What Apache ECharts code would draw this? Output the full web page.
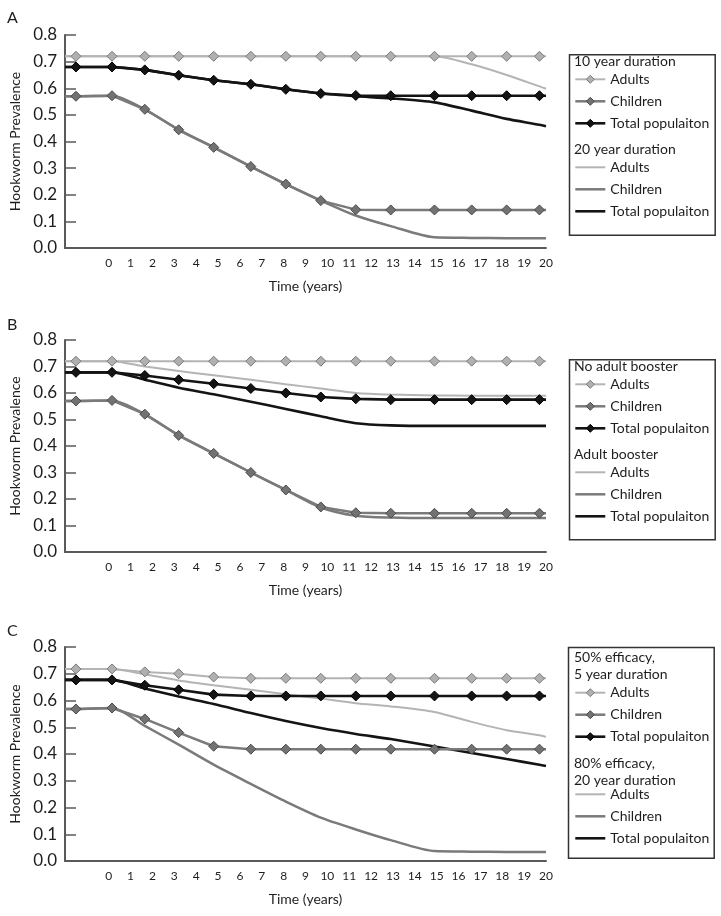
<!DOCTYPE html>
<html>
<head>
<meta charset="utf-8">
<title>Hookworm prevalence</title>
<script src="https://cdn.jsdelivr.net/npm/echarts@6/dist/echarts.min.js"></script>
<style>
html, body { margin: 0; padding: 0; background: #fff; }
#main { width: 721px; height: 916px; }
</style>
</head>
<body>
<div id="main"></div>
<script>
// time points (years). first and last point carry no marker
var years = [-2, -1.5, 0.15, 1.65, 3.2, 4.8, 6.5, 8.1, 9.7, 11.3, 12.9, 14.9, 16.6, 18.2, 19.7, 20];
var xTickLabels = ['0','1','2','3','4','5','6','7','8','9','10','11','12','13','14','15','16','17','18','19','20'];
var yTickLabels = ['0.0','0.1','0.2','0.3','0.4','0.5','0.6','0.7','0.8'];

// A: 10 year vs 20 year duration
var aAdults10   = [0.72, 0.72, 0.72, 0.72, 0.72, 0.72, 0.72, 0.72, 0.72, 0.72, 0.72, 0.72, 0.72, 0.72, 0.72, 0.72];
var aChildren10 = [0.57, 0.57, 0.572, 0.521, 0.444, 0.378, 0.306, 0.24, 0.178, 0.144, 0.143, 0.143, 0.143, 0.143, 0.143, 0.143];
var aTotal10    = [0.68, 0.68, 0.68, 0.669, 0.649, 0.63, 0.615, 0.596, 0.58, 0.573, 0.572, 0.572, 0.572, 0.572, 0.572, 0.572];
var aAdults20   = [0.72, 0.72, 0.72, 0.72, 0.72, 0.72, 0.72, 0.72, 0.72, 0.72, 0.72, 0.72, 0.69, 0.65, 0.607, 0.598];
var aChildren20 = [0.57, 0.57, 0.572, 0.521, 0.444, 0.378, 0.306, 0.24, 0.178, 0.122, 0.082, 0.04, 0.038, 0.037, 0.037, 0.037];
var aTotal20    = [0.68, 0.68, 0.68, 0.669, 0.649, 0.63, 0.615, 0.596, 0.58, 0.57, 0.562, 0.547, 0.516, 0.485, 0.463, 0.457];

// B: no adult booster vs adult booster
var bAdultsNo     = [0.72, 0.72, 0.72, 0.72, 0.72, 0.72, 0.72, 0.72, 0.72, 0.72, 0.72, 0.72, 0.72, 0.72, 0.72, 0.72];
var bChildrenNo   = [0.57, 0.57, 0.572, 0.52, 0.44, 0.372, 0.3, 0.234, 0.17, 0.148, 0.146, 0.146, 0.146, 0.146, 0.146, 0.146];
var bTotalNo      = [0.678, 0.678, 0.678, 0.666, 0.65, 0.635, 0.617, 0.6, 0.585, 0.578, 0.575, 0.575, 0.575, 0.575, 0.575, 0.575];
var bAdultsBoost  = [0.72, 0.72, 0.72, 0.70, 0.683, 0.667, 0.65, 0.633, 0.617, 0.6, 0.594, 0.591, 0.59, 0.59, 0.59, 0.59];
var bChildrenBoost= [0.57, 0.57, 0.572, 0.52, 0.44, 0.372, 0.3, 0.234, 0.168, 0.137, 0.13, 0.128, 0.128, 0.128, 0.128, 0.128];
var bTotalBoost   = [0.678, 0.678, 0.678, 0.65, 0.62, 0.595, 0.567, 0.54, 0.512, 0.486, 0.478, 0.476, 0.476, 0.476, 0.476, 0.476];

// C: 50% efficacy 5 years vs 80% efficacy 20 years
var cAdults50   = [0.718, 0.718, 0.718, 0.707, 0.70, 0.688, 0.683, 0.683, 0.683, 0.683, 0.683, 0.683, 0.683, 0.683, 0.683, 0.683];
var cChildren50 = [0.568, 0.568, 0.572, 0.531, 0.48, 0.429, 0.418, 0.418, 0.418, 0.418, 0.418, 0.418, 0.418, 0.418, 0.418, 0.418];
var cTotal50    = [0.677, 0.677, 0.677, 0.657, 0.64, 0.622, 0.617, 0.617, 0.617, 0.617, 0.617, 0.617, 0.617, 0.617, 0.617, 0.617];
var cAdults80   = [0.718, 0.718, 0.718, 0.698, 0.675, 0.657, 0.64, 0.623, 0.607, 0.59, 0.578, 0.557, 0.52, 0.489, 0.47, 0.464];
var cChildren80 = [0.568, 0.568, 0.572, 0.505, 0.435, 0.36, 0.288, 0.222, 0.162, 0.118, 0.078, 0.037, 0.035, 0.034, 0.034, 0.034];
var cTotal80    = [0.677, 0.677, 0.677, 0.645, 0.615, 0.587, 0.553, 0.523, 0.497, 0.475, 0.456, 0.428, 0.404, 0.381, 0.36, 0.355];

var FONT = 'Lato';
var AXIS_COLOR = '#5a5a5a';
var TEXT_COLOR = '#1e1e1e';

var look = {
  'Adults':           {line: '#b4b4b4', fill: '#b0b0b0', border: '#7a7a7a', width: 2},
  'Children':         {line: '#7a7a7a', fill: '#727272', border: '#4a4a4a', width: 2.5},
  'Total populaiton': {line: '#141414', fill: '#141414', border: '#000000', width: 2.6}
};

function lineSeries(label, tag, vals, gi, marked) {
  var st = look[label];
  return {
    name: label + '#' + tag,
    type: 'line',
    xAxisIndex: gi,
    yAxisIndex: gi,
    symbol: marked ? 'diamond' : 'none',
    symbolSize: 10,
    showSymbol: marked,
    smooth: marked ? false : 0.25,
    z: marked ? 4 : 3,
    lineStyle: {color: st.line, width: st.width},
    itemStyle: {color: st.fill, borderColor: st.border, borderWidth: 1},
    emphasis: {disabled: true},
    data: vals.map(function (v, i) {
      var p = {value: [years[i], v]};
      if (i === 0 || i === vals.length - 1) p.symbol = 'none';
      return p;
    })
  };
}

function legendFor(tag, top, marked) {
  return {
    orient: 'vertical',
    left: 574,
    top: top,
    padding: 0,
    itemWidth: 30,
    itemHeight: 10,
    itemGap: 8,
    selectedMode: false,
    lineStyle: {width: 'inherit'},
    itemStyle: {borderWidth: 'inherit'},
    textStyle: {fontFamily: FONT, fontSize: 14, color: TEXT_COLOR},
    formatter: function (name) { return name.split('#')[0]; },
    data: ['Adults', 'Children', 'Total populaiton'].map(function (n) {
      var d = {name: n + '#' + tag};
      if (!marked) d.itemStyle = {opacity: 0};
      return d;
    })
  };
}

function xAxisFor(gi) {
  return {
    type: 'value', gridIndex: gi, min: -2, max: 20, interval: 1,
    name: 'Time (years)', nameLocation: 'middle', nameGap: 31,
    nameTextStyle: {fontFamily: FONT, fontSize: 14, color: TEXT_COLOR},
    axisLine: {show: true, onZero: false, lineStyle: {color: AXIS_COLOR, width: 2}},
    axisTick: {show: false},
    splitLine: {show: false},
    axisLabel: {
      margin: 9, fontFamily: FONT, fontSize: 12, color: TEXT_COLOR,
      showMinLabel: true, showMaxLabel: true,
      formatter: function (v) { return v >= 0 ? xTickLabels[Math.round(v)] : ''; }
    }
  };
}

function yAxisFor(gi) {
  return {
    type: 'value', gridIndex: gi, min: 0, max: 0.8, interval: 0.1,
    name: 'Hookworm Prevalence', nameLocation: 'middle', nameGap: 35,
    nameTextStyle: {fontFamily: FONT, fontSize: 14, color: TEXT_COLOR},
    axisLine: {show: true, onZero: false, lineStyle: {color: AXIS_COLOR, width: 2}},
    axisTick: {show: true, inside: true, length: 11, lineStyle: {color: AXIS_COLOR, width: 1.5}},
    splitLine: {show: false},
    axisLabel: {
      margin: 8, fontFamily: FONT, fontSize: 17, color: TEXT_COLOR,
      formatter: function (v) { return yTickLabels[Math.round(v * 10)]; }
    }
  };
}

function heading(text, left, top) {
  return {text: text, left: left, top: top, padding: 0,
    textStyle: {fontFamily: FONT, fontSize: 14, fontWeight: 'normal', color: TEXT_COLOR, lineHeight: 17}};
}
function letter(text, top) {
  return {text: text, left: 7, top: top, padding: 0,
    textStyle: {fontFamily: FONT, fontSize: 16, fontWeight: 'normal', color: TEXT_COLOR, lineHeight: 16}};
}
function box(x, y, w, h) {
  return {type: 'rect', left: x, top: y, shape: {width: w, height: h},
    style: {fill: 'none', stroke: '#333', lineWidth: 1.5}, silent: true};
}

var option = {
  animation: false,
  backgroundColor: '#fff',
  title: [
    letter('A', 10), letter('B', 317), letter('C', 623),
    heading('10 year duration', 574, 53.2),
    heading('20 year duration', 574, 140.5),
    heading('No adult booster', 574, 358.2),
    heading('Adult booster', 574, 445.5),
    heading('50% efficacy,\n5 year duration', 574, 648.8),
    heading('80% efficacy,\n20 year duration', 574, 754.8)
  ],
  grid: [
    {left: 65, width: 481, top: 35, height: 213},
    {left: 65, width: 481, top: 340, height: 212},
    {left: 65, width: 481, top: 647, height: 214}
  ],
  xAxis: [xAxisFor(0), xAxisFor(1), xAxisFor(2)],
  yAxis: [yAxisFor(0), yAxisFor(1), yAxisFor(2)],
  legend: [
    legendFor('a10', 72.3, true), legendFor('a20', 160.3, false),
    legendFor('bno', 377.3, true), legendFor('bbo', 465.3, false),
    legendFor('c50', 685.7, true), legendFor('c80', 787.3, false)
  ],
  graphic: [
    box(567, 52.3, 145.7, 180.4),
    box(567, 357.3, 145.7, 180),
    box(566, 645, 145.7, 210.7)
  ],
  series: [
    lineSeries('Adults', 'a20', aAdults20, 0, false),
    lineSeries('Children', 'a20', aChildren20, 0, false),
    lineSeries('Total populaiton', 'a20', aTotal20, 0, false),
    lineSeries('Adults', 'a10', aAdults10, 0, true),
    lineSeries('Children', 'a10', aChildren10, 0, true),
    lineSeries('Total populaiton', 'a10', aTotal10, 0, true),

    lineSeries('Adults', 'bbo', bAdultsBoost, 1, false),
    lineSeries('Children', 'bbo', bChildrenBoost, 1, false),
    lineSeries('Total populaiton', 'bbo', bTotalBoost, 1, false),
    lineSeries('Adults', 'bno', bAdultsNo, 1, true),
    lineSeries('Children', 'bno', bChildrenNo, 1, true),
    lineSeries('Total populaiton', 'bno', bTotalNo, 1, true),

    lineSeries('Adults', 'c80', cAdults80, 2, false),
    lineSeries('Children', 'c80', cChildren80, 2, false),
    lineSeries('Total populaiton', 'c80', cTotal80, 2, false),
    lineSeries('Adults', 'c50', cAdults50, 2, true),
    lineSeries('Children', 'c50', cChildren50, 2, true),
    lineSeries('Total populaiton', 'c50', cTotal50, 2, true)
  ]
};

var myChart = echarts.init(document.getElementById('main'), null, {renderer: 'canvas'});
myChart.setOption(option);
</script>
</body>
</html>
